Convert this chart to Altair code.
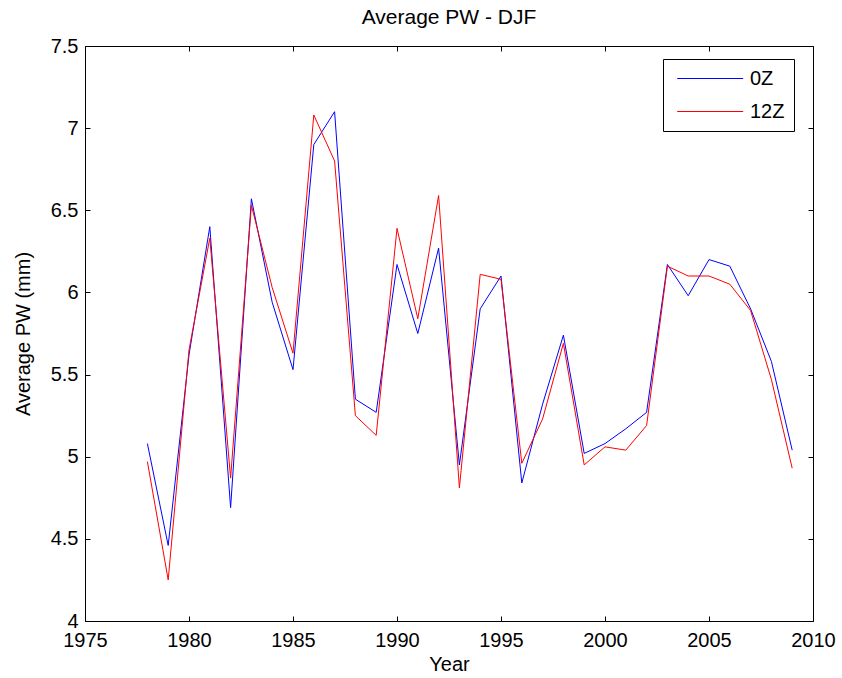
import altair as alt
import pandas as pd

# ---- data ----
years = list(range(1978, 2010))
pw_0z = [5.08, 4.46, 5.62, 6.40, 4.69, 6.57, 5.94, 5.53, 6.90, 7.10,
         5.35, 5.27, 6.17, 5.75, 6.27, 4.95, 5.90, 6.10, 4.84, 5.32,
         5.74, 5.02, 5.08, 5.17, 5.27, 6.17, 5.98, 6.20, 6.16, 5.90,
         5.58, 5.04]
pw_12z = [4.97, 4.25, 5.65, 6.33, 4.87, 6.53, 6.03, 5.63, 7.08, 6.80,
          5.25, 5.13, 6.39, 5.84, 6.59, 4.81, 6.11, 6.08, 4.96, 5.23,
          5.69, 4.95, 5.06, 5.04, 5.19, 6.16, 6.10, 6.10, 6.05, 5.89,
          5.47, 4.93]
series_names = ["0Z", "12Z"]
series_colors = ["#0000ff", "#ff0000"]
x_ticks = [1975, 1980, 1985, 1990, 1995, 2000, 2005, 2010]
y_ticks = [4, 4.5, 5, 5.5, 6, 6.5, 7, 7.5]

df = pd.DataFrame({
    "Year": years + years,
    "PW": pw_0z + pw_12z,
    "Series": [series_names[0]] * len(years) + [series_names[1]] * len(years),
})

FONT = "Liberation Sans"
x_scale = alt.Scale(domain=[1975, 2010], nice=False, zero=False)
y_scale = alt.Scale(domain=[4, 7.5], nice=False, zero=False)

common_axis = dict(
    offset=-5, tickSize=5, tickColor="black", tickWidth=1,
    domain=False, grid=False,
    labelFont=FONT, labelFontSize=20, labelColor="black",
    titleFont=FONT, titleFontSize=20, titleFontWeight="normal", titleColor="black",
)

lines = alt.Chart(df).mark_line(strokeWidth=1).encode(
    x=alt.X("Year:Q", scale=x_scale,
            axis=alt.Axis(orient="bottom", values=x_ticks, format="d", title="Year",
                          labelFlush=False, labelOverlap=False, labelPadding=9,
                          titlePadding=4, **common_axis)),
    y=alt.Y("PW:Q", scale=y_scale,
            axis=alt.Axis(orient="left", values=y_ticks, format="~g",
                          title="Average PW (mm)", labelOverlap=False,
                          labelPadding=7, titlePadding=17, **common_axis)),
    color=alt.Color("Series:N",
                    scale=alt.Scale(domain=series_names, range=series_colors),
                    legend=alt.Legend(
                        title=None, orient="none", legendX=578, legendY=13,
                        strokeColor="black", fillColor="white", padding=9,
                        symbolType="M-0.53,0H6.07", symbolSize=400,
                        symbolStrokeWidth=1, rowPadding=12,
                        labelFont=FONT, labelFontSize=20, labelColor="black",
                        labelOffset=57)),
    order=alt.Order("Year:Q"),
)

frame = alt.Chart(df).mark_point(opacity=0).encode(
    x=alt.X("Year:Q", scale=x_scale,
            axis=alt.Axis(orient="top", values=x_ticks, labels=False, title="",
                          **common_axis)),
    y=alt.Y("PW:Q", scale=y_scale,
            axis=alt.Axis(orient="right", values=y_ticks, labels=False, title="",
                          **common_axis)),
)

chart = (
    alt.layer(lines, frame)
    .resolve_axis(x="independent", y="independent")
    .properties(
        width=728, height=575,
        title=alt.Title("Average PW - DJF", font=FONT, fontSize=21,
                        fontWeight="normal", color="black", offset=8),
        autosize=alt.AutoSizeParams(type="none"),
        padding={"left": 85, "top": 46, "right": 29, "bottom": 57},
        background="white",
    )
    .configure_view(stroke="black", strokeWidth=1)
)

chart.save("out.html", embed_options={"renderer": "svg", "actions": False})
